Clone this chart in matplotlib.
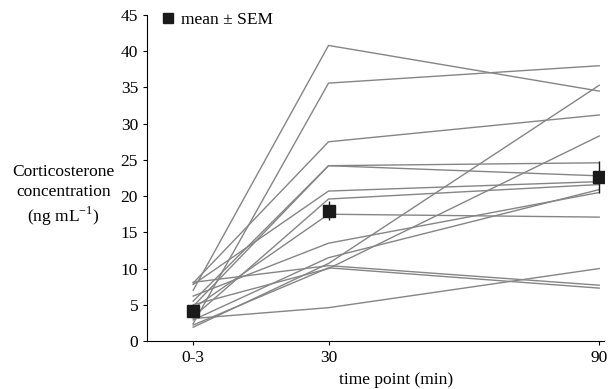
import numpy as np
import matplotlib
matplotlib.use('Agg')
import matplotlib.pyplot as plt
from matplotlib.lines import Line2D

plt.rcParams['font.family'] = ['Liberation Serif', 'DejaVu Serif']
plt.rcParams['mathtext.fontset'] = 'custom'
plt.rcParams['mathtext.rm'] = 'Liberation Serif'

# time points (min) and their tick labels
times = [0, 30, 90]
time_labels = ['0-3', '30', '90']

# individual birds: corticosterone at 0-3, 30 and 90 min
t0 = [7.0, 2.4, 8.0, 5.5, 4.8, 7.8, 3.3, 4.5, 6.2, 2.9, 1.9, 5.0, 8.1, 2.2, 3.1]
t30 = [40.8, 35.6, 27.5, 24.2, 24.2, 20.7, 19.6, 17.5, 13.5, 11.5, 10.7, 10.0, 10.4, 10.1, 4.6]
t90 = [34.5, 38.0, 31.2, 24.6, 22.8, 22.0, 21.6, 17.1, 20.5, 20.9, 35.3, 28.3, 7.7, 7.3, 10.0]

# group mean and SEM
mean_vals = [4.1, 18.0, 22.6]
sem_vals = [0.5, 1.3, 2.2]

fig = plt.figure(figsize=(6.08, 3.89), dpi=100)
ax = fig.add_axes([0.242, 0.1234, 0.751, 0.838])

for a, b, c in zip(t0, t30, t90):
    ax.plot(times, [a, b, c], color='#858585', lw=1.0, zorder=1)

ax.errorbar(times, mean_vals, yerr=sem_vals, fmt='s', color='#1a1a1a',
            ms=8, elinewidth=1.0, capsize=0, zorder=3)

ax.set_xlim(-10.2, 91)
ax.set_ylim(0, 45)
ax.set_yticks(range(0, 46, 5))
ax.set_xticks(times)
ax.set_xticklabels(time_labels)
ax.spines['top'].set_visible(False)
ax.spines['right'].set_visible(False)
ax.tick_params(labelsize=12.5, length=3, width=0.8)

handle = Line2D([], [], marker='s', ls='none', color='#1a1a1a', ms=7)
ax.legend([handle], ['mean ± SEM'], loc='upper left', frameon=False, fontsize=12.5,
          handlelength=0.6, handletextpad=0.4, borderaxespad=0.0,
          bbox_to_anchor=(0.02, 1.03))

ax.text(45, -0.095, 'time point (min)', transform=ax.get_xaxis_transform(),
        ha='center', va='top', fontsize=12.5)
fig.text(0.104, 0.495, 'Corticosterone\nconcentration\n(ng mL$^{\\mathrm{-1}}$)',
         ha='center', va='center', fontsize=12.5, linespacing=1.3)

fig.savefig('out.png', dpi=100)
